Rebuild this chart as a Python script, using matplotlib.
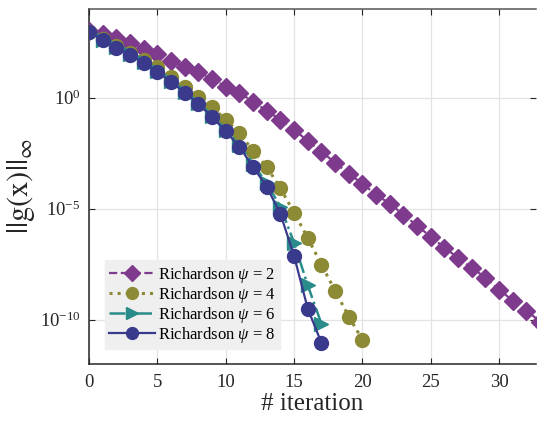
import numpy as np
import matplotlib
matplotlib.use("Agg")
import matplotlib.pyplot as plt
from matplotlib.ticker import FixedLocator, FixedFormatter

plt.rcParams['font.family'] = ['Liberation Serif', 'DejaVu Serif']
plt.rcParams['mathtext.fontset'] = 'custom'
plt.rcParams['mathtext.rm'] = 'Liberation Serif'
plt.rcParams['mathtext.it'] = 'Liberation Serif:italic'
plt.rcParams['mathtext.bf'] = 'Liberation Serif:bold'
plt.rcParams['mathtext.fallback'] = 'stix'

# log10 of ||g(x)||_inf per iteration
iters_p2 = list(range(0, 34))
log_p2 = [3.02, 2.88, 2.70, 2.48, 2.21, 1.98, 1.67, 1.40, 1.17, 0.86, 0.50, 0.23,
          -0.18, -0.59, -0.99, -1.44, -1.94, -2.43, -2.93, -3.42, -3.87, -4.37,
          -4.77, -5.27, -5.77, -6.26, -6.76, -7.21, -7.66, -8.11, -8.65, -9.14,
          -9.59, -10.09]

iters_p4 = list(range(0, 21))
log_p4 = [2.97, 2.66, 2.34, 2.03, 1.71, 1.40, 0.95, 0.50, 0.05, -0.41, -0.99,
          -1.58, -2.39, -3.11, -4.08, -5.18, -6.31, -7.52, -8.69, -9.86, -10.90]

iters_p6 = list(range(0, 18))
log_p6 = [2.97, 2.62, 2.27, 1.96, 1.60, 1.20, 0.75, 0.27, -0.22, -0.80, -1.44,
          -2.12, -2.98, -3.85, -4.91, -6.53, -8.45, -10.18]

iters_p8 = list(range(0, 18))
log_p8 = [2.97, 2.61, 2.25, 1.94, 1.58, 1.17, 0.72, 0.23, -0.27, -0.86, -1.51,
          -2.21, -3.11, -4.01, -5.23, -7.12, -9.50, -11.04]

labels = [r'Richardson $\psi$ = 2', r'Richardson $\psi$ = 4',
          r'Richardson $\psi$ = 6', r'Richardson $\psi$ = 8']

c_p2 = '#7e3a8c'
c_p4 = '#8c8a34'
c_p6 = '#2a8c8a'
c_p8 = '#3a3a8c'

fig = plt.figure(figsize=(5.37, 4.21), dpi=100)
ax = fig.add_axes([89/537, 1-364/421, (536-89)/537, (364-9)/421])

ax.semilogy(iters_p2, 10**np.array(log_p2), linestyle='--', color=c_p2, marker='D',
            markersize=9.5, linewidth=1.6, label=labels[0], zorder=3)
ax.semilogy(iters_p4, 10**np.array(log_p4), linestyle=':', color=c_p4, marker='o',
            markersize=10, linewidth=2.2, label=labels[1], zorder=4)
ax.semilogy(iters_p6, 10**np.array(log_p6), linestyle='-.', color=c_p6, marker='>',
            markersize=10, linewidth=1.8, label=labels[2], zorder=5)
ax.semilogy(iters_p8, 10**np.array(log_p8), linestyle='-', color=c_p8, marker='o',
            markersize=10, linewidth=1.6, label=labels[3], zorder=6)

ax.set_xlim(0, 32.7)
ax.set_ylim(1e-12, 1e4)

ax.xaxis.set_major_locator(FixedLocator([0, 5, 10, 15, 20, 25, 30]))
ax.yaxis.set_major_locator(FixedLocator([1e-10, 1e-5, 1e0]))
ax.yaxis.set_major_formatter(FixedFormatter([r'$10^{-10}$', r'$10^{-5}$', r'$10^{0}$']))
ax.yaxis.set_minor_locator(FixedLocator([]))
ax.tick_params(axis='both', which='major', direction='in', labelsize=13.5,
               length=4, top=True, right=True, colors='#262626', labelcolor='#262626')
ax.tick_params(axis='x', pad=7)
ax.tick_params(axis='y', pad=6)

ax.grid(True, color='#e3e3e3', linewidth=0.9)
ax.set_axisbelow(True)
for s in ['left', 'bottom']:
    ax.spines[s].set_color('#262626')
    ax.spines[s].set_linewidth(1.1)
ax.spines['top'].set_color('#555555')
ax.spines['top'].set_linewidth(1.1)
ax.spines['right'].set_visible(False)

ax.set_xlabel('# iteration', fontsize=18, color='#262626', labelpad=2)
ax.set_ylabel(r'$||\mathrm{g(x)}||_\infty$', fontsize=22, color='#262626', labelpad=2,
              math_fontfamily='stix')

leg = ax.legend(loc='lower left', bbox_to_anchor=(0.035, 0.043), fontsize=12,
                frameon=True, fancybox=False, handlelength=2.8, handletextpad=0.15,
                borderpad=0.25, labelspacing=0.0, borderaxespad=0, markerscale=0.85)
leg.get_frame().set_facecolor('#efefef')
leg.get_frame().set_edgecolor('#efefef')
leg.get_frame().set_alpha(1)

fig.savefig('out.png', dpi=100)
